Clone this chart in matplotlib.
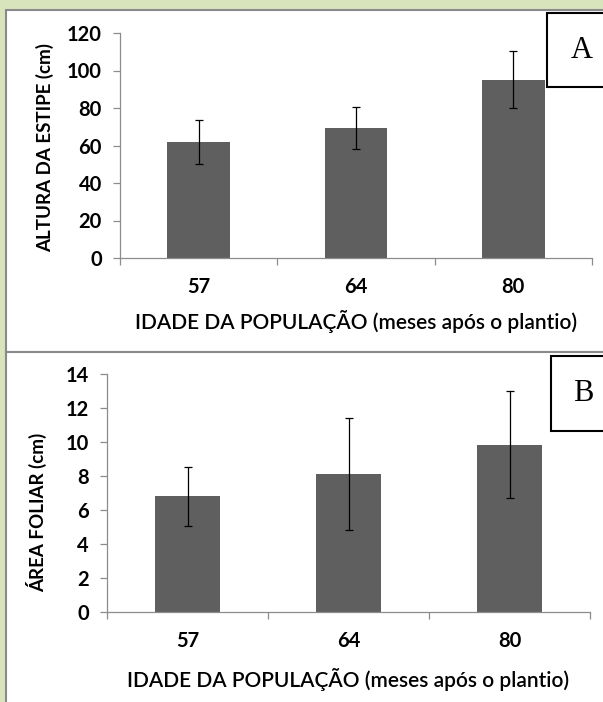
import matplotlib
matplotlib.use('Agg')
import matplotlib.pyplot as plt
from matplotlib.patches import Rectangle

# data
idades = ['57', '64', '80']
altura = [61.7, 69.5, 95.2]
altura_err = [11.7, 11.2, 15.0]
area = [6.8, 8.1, 9.85]
area_err = [1.75, 3.3, 3.15]

W, H = 603, 702
BG = '#d8e4bc'
BAR = '#5f5f5f'
AXC = '#8c8c8c'
FONT = 'Lato'

fig = plt.figure(figsize=(W / 100, H / 100), dpi=100, facecolor=BG)

def px(x0, y0, x1, y1):
    # pixel box (top-left origin) -> figure fraction rect
    return [x0 / W, 1 - y1 / H, (x1 - x0) / W, (y1 - y0) / H]

# white panels with gray borders, kept behind the axes
for (x0, y0, x1, y1) in [(6, 10, 610, 352), (6, 352, 610, 710)]:
    r = px(x0, y0, x1, y1)
    fig.patches.append(Rectangle((r[0], r[1]), r[2], r[3], transform=fig.transFigure,
                                 facecolor='white', edgecolor='#8a8a8a', lw=1.5, zorder=-5))


def panel(rect, vals, errs, ymax, step, ylabel, ylab_xy, letter, box, xpad):
    ax = fig.add_axes(px(*rect))
    ax.patch.set_alpha(0)
    xs = range(len(idades))
    ax.bar(xs, vals, width=0.4, color=BAR, zorder=2)
    ax.errorbar(xs, vals, yerr=errs, fmt='none', ecolor='black', elinewidth=0.9,
                capsize=3, capthick=0.9, zorder=3)
    ax.set_xlim(-0.5, len(idades) - 0.5)
    ax.set_ylim(0, ymax)
    ax.set_yticks(range(0, ymax + 1, step))
    ax.set_xticks(list(xs))
    ax.set_xticklabels(idades)
    ax.set_xticks([i - 0.5 for i in range(len(idades) + 1)], minor=True)
    ax.tick_params(axis='x', which='major', length=0, pad=14)
    ax.tick_params(axis='x', which='minor', length=5, color=AXC, width=0.9)
    ax.tick_params(axis='y', length=5, color=AXC, width=0.9, pad=8)
    for lab in ax.get_xticklabels() + ax.get_yticklabels():
        lab.set_fontfamily(FONT)
        lab.set_fontweight('bold')
        lab.set_fontsize(14.5)
    for s in ['top', 'right']:
        ax.spines[s].set_visible(False)
    for s in ['left', 'bottom']:
        ax.spines[s].set_color(AXC)
        ax.spines[s].set_linewidth(0.9)
    ax.set_xlabel('IDADE DA POPULAÇÃO (meses após o plantio)', fontfamily=FONT,
                  fontsize=15, fontweight='semibold', labelpad=xpad)
    ax.set_ylabel(ylabel, fontfamily=FONT, fontsize=13.5, fontweight='bold')
    ax.yaxis.set_label_coords(*ylab_xy)
    # letter box
    b = px(*box)
    fig.patches.append(Rectangle((b[0], b[1]), b[2], b[3], transform=fig.transFigure,
                                 facecolor='white', edgecolor='black', lw=1.5, zorder=5))
    fig.text(b[0] + 0.55 * b[2], b[1] + b[3] / 2, letter, family='Liberation Serif',
             fontsize=22, ha='center', va='center', zorder=6)
    return ax


panel((120, 33, 592, 258), altura, altura_err, 120, 20,
      'ALTURA DA ESTIPE (cm)', (-0.14, 0.49), 'A', (547, 13, 610, 87), 9)
panel((107, 374, 590, 612), area, area_err, 14, 2,
      'ÁREA FOLIAR (cm)', (-0.125, 0.42), 'B', (551, 356, 610, 431), 12)

fig.savefig('out.png', dpi=100, facecolor=BG)
